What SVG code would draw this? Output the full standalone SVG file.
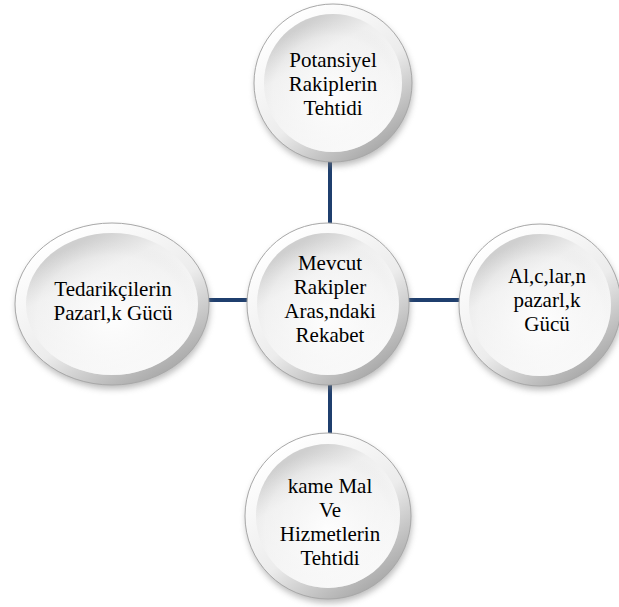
<svg xmlns="http://www.w3.org/2000/svg" width="619" height="607" viewBox="0 0 619 607">
<defs>
<filter id="sh" x="-20%" y="-20%" width="140%" height="150%"><feGaussianBlur stdDeviation="3"/></filter>
<linearGradient id="rim" x1="0.2" y1="0.1" x2="0.8" y2="0.95"><stop offset="0" stop-color="#ffffff"/><stop offset="0.55" stop-color="#ececec"/><stop offset="1" stop-color="#a5a5a5"/></linearGradient>
<linearGradient id="face" x1="0.25" y1="0.1" x2="0.75" y2="0.95"><stop offset="0" stop-color="#cfcfcf"/><stop offset="0.25" stop-color="#efefef"/><stop offset="1" stop-color="#fcfcfc"/></linearGradient>
<radialGradient id="glow" cx="0.5" cy="0.6" r="0.55"><stop offset="0" stop-color="#ffffff" stop-opacity="0.9"/><stop offset="0.8" stop-color="#f4f4f4" stop-opacity="0.4"/><stop offset="1" stop-color="#e0e0e0" stop-opacity="0"/></radialGradient>
</defs>
<style>
.sh{fill:#7a7a7a;opacity:0.5;filter:url(#sh)}
.rim{fill:url(#rim);stroke:#a8a8a8;stroke-width:1}
.face{fill:url(#face)}
.glow{fill:url(#glow)}
.lbl{font-family:'Liberation Serif','Times New Roman',serif;font-size:21px;fill:#000;text-anchor:middle}
.con{stroke:#1f3f6e;stroke-width:4;fill:none}
</style>
<g id="connectors">
<line class="con" x1="330" y1="160" x2="330" y2="226"/>
<line class="con" x1="330" y1="383" x2="330" y2="435"/>
<line class="con" x1="205" y1="300" x2="249" y2="300"/>
<line class="con" x1="408" y1="300" x2="462" y2="300"/>
</g>
<g id="node-top">
<circle class="sh" cx="334" cy="87" r="79"/>
<circle class="rim" cx="333" cy="83" r="79"/>
<circle class="face" cx="333" cy="83" r="69"/>
<circle class="glow" cx="333" cy="83" r="69"/>
<text class="lbl" x="333" y="67">Potansiyel</text>
<text class="lbl" x="333" y="91">Rakiplerin</text>
<text class="lbl" x="333" y="115">Tehtidi</text>
</g>
<g id="node-center">
<circle class="sh" cx="329" cy="308" r="81"/>
<circle class="rim" cx="328" cy="304" r="81"/>
<circle class="face" cx="328" cy="304" r="71"/>
<circle class="glow" cx="328" cy="304" r="71"/>
<text class="lbl" x="330" y="270">Mevcut</text>
<text class="lbl" x="330" y="294">Rakipler</text>
<text class="lbl" x="330" y="318">Aras,ndaki</text>
<text class="lbl" x="330" y="342">Rekabet</text>
</g>
<g id="node-left">
<ellipse class="sh" cx="113" cy="308" rx="97" ry="81"/>
<ellipse class="rim" cx="112" cy="304" rx="97" ry="81"/>
<ellipse class="face" cx="112" cy="304" rx="86" ry="71"/>
<ellipse class="glow" cx="112" cy="304" rx="86" ry="71"/>
<text class="lbl" x="113" y="296">Tedarikçilerin</text>
<text class="lbl" x="113" y="320">Pazarl,k Gücü</text>
</g>
<g id="node-right">
<circle class="sh" cx="541" cy="309" r="81"/>
<circle class="rim" cx="540" cy="305" r="81"/>
<circle class="face" cx="540" cy="305" r="71"/>
<circle class="glow" cx="540" cy="305" r="71"/>
<text class="lbl" x="547" y="283">Al,c,lar,n</text>
<text class="lbl" x="547" y="307">pazarl,k</text>
<text class="lbl" x="547" y="331">Gücü</text>
</g>
<g id="node-bottom">
<circle class="sh" cx="329" cy="520" r="83"/>
<circle class="rim" cx="328" cy="516" r="83"/>
<circle class="face" cx="328" cy="516" r="72"/>
<circle class="glow" cx="328" cy="516" r="72"/>
<text class="lbl" x="330" y="493">kame Mal</text>
<text class="lbl" x="330" y="517">Ve</text>
<text class="lbl" x="330" y="541">Hizmetlerin</text>
<text class="lbl" x="330" y="565">Tehtidi</text>
</g>
</svg>
